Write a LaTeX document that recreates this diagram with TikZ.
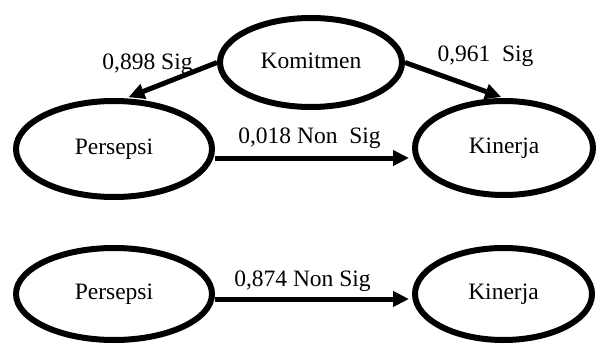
\documentclass[tikz,border=0pt]{standalone}
\usepackage{fontspec}
\setmainfont{Liberation Serif}
\usetikzlibrary{shapes.geometric,arrows.meta}

\tikzset{
  construct/.style={ellipse, draw=black, line width=6pt, inner sep=0pt,
    text height=23pt, text depth=12pt, align=center},
  path arrow/.style={line width=5pt, draw=black,
    -{Triangle[length=16pt,width=15pt]}, shorten >=3pt},
  coef/.style={anchor=base, inner sep=0pt}
}

\begin{document}
\begin{tikzpicture}[x=1pt, y=-1pt, font=\fontsize{23.5}{28}\selectfont]
  \useasboundingbox (0,0) rectangle (597,345);

  % full model
  \node[construct, minimum width=182pt, minimum height=89pt] (km) at (311,62.5) {Komitmen};
  \node[construct, minimum width=196pt, minimum height=96pt] (p1) at (114,149) {Persepsi};
  \node[construct, minimum width=178pt, minimum height=94pt] (k1) at (504,148) {Kinerja};

  \draw[path arrow] (km.west) -- (p1.77);
  \draw[path arrow] (km.east) -- (k1.north);
  \draw[path arrow] ([yshift=-9pt]p1.east) coordinate (s1) -- (s1 -| k1.west);

  \node[coef] (c1) at (147.5,70) {0,898 Sig};
  \node[coef] (c2) at (485.5,62) {0,961\ \ Sig};
  \node[coef] (c3) at (309.5,143) {0,018 Non\ \ Sig};

  % direct model
  \node[construct, minimum width=196pt, minimum height=92pt] (p2) at (114,294) {Persepsi};
  \node[construct, minimum width=177pt, minimum height=92pt] (k2) at (503.5,294) {Kinerja};

  \draw[path arrow] ([yshift=-5pt]p2.east) coordinate (s2) -- (s2 -| k2.west);

  \node[coef] (c4) at (302.5,286) {0,874 Non Sig};
\end{tikzpicture}
\end{document}
